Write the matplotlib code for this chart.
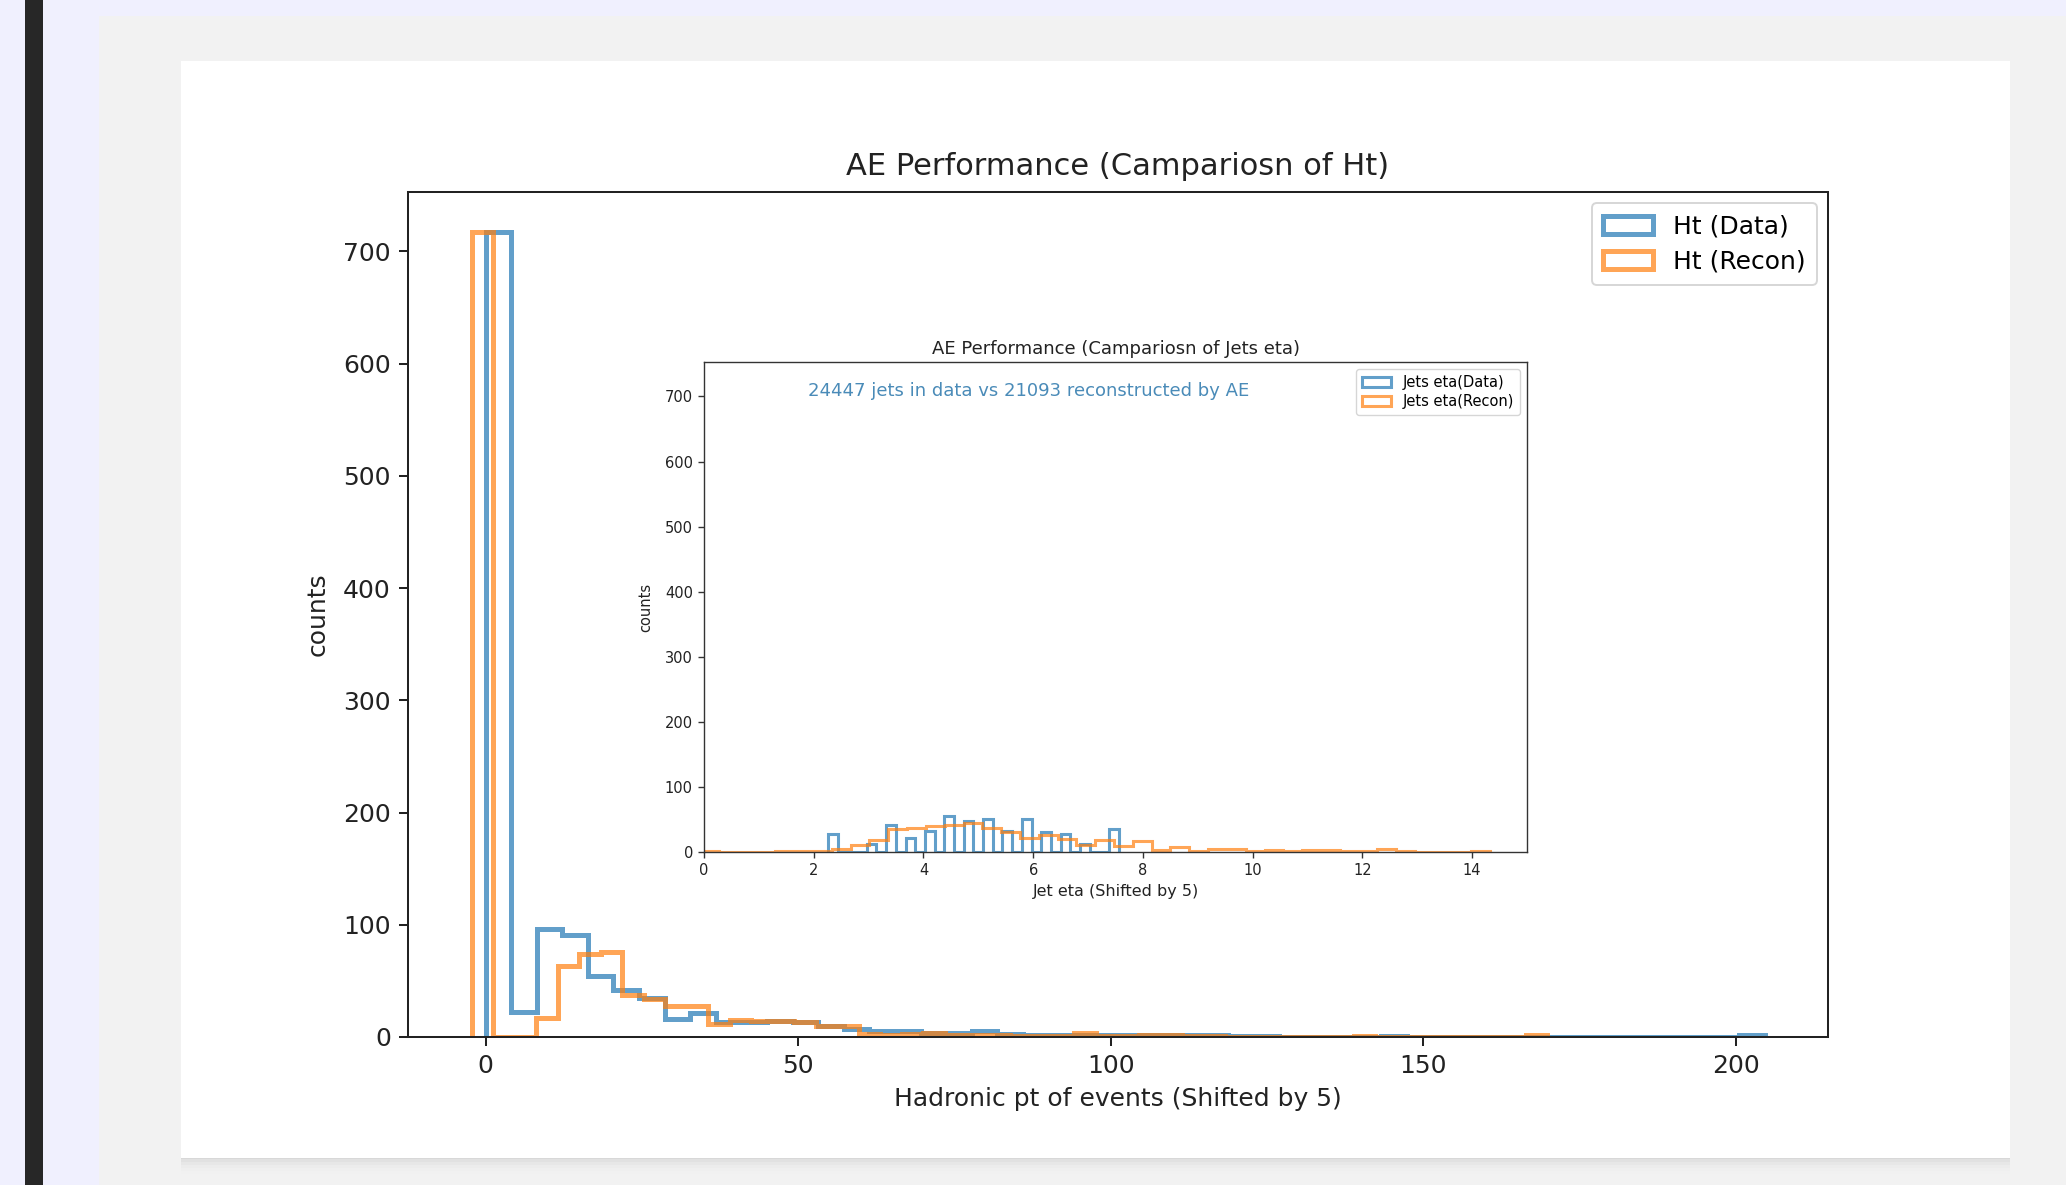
import numpy as np
import matplotlib
matplotlib.use("Agg")
import matplotlib.pyplot as plt
from matplotlib.patches import Rectangle, Patch

# ---------------- data ----------------
# Main histogram: Ht (Data) - 50 equal bins
ht_data_range = (0.0, 204.6)
ht_data_counts = [717, 22, 96, 91, 54, 42, 35, 16, 21, 13,
                  13, 14, 13, 10, 7, 5, 5, 4, 4, 5,
                  3, 2, 2, 2, 2, 2, 2, 2, 2, 1,
                  1, 0, 0, 0, 0, 1, 0, 0, 0, 0,
                  0, 0, 0, 0, 0, 0, 0, 0, 0, 2]
# Main histogram: Ht (Recon) - 50 equal bins
ht_recon_range = (-2.2, 169.8)
ht_recon_counts = [717, 0, 0, 17, 63, 74, 76, 37, 34, 28,
                   28, 12, 15, 14, 14, 13, 10, 10, 3, 2,
                   3, 4, 2, 2, 2, 1, 1, 1, 4, 1,
                   1, 2, 2, 1, 1, 0, 0, 0, 0, 0,
                   0, 1, 0, 0, 0, 0, 0, 0, 0, 2]

# Inset: Jets eta (Data) - 30 equal bins
eta_data_range = (2.26, 7.56)
eta_data_counts = [28, 0, 0, 0, 12, 0, 42, 0, 22, 0,
                   33, 0, 56, 0, 47, 0, 50, 0, 32, 0,
                   51, 0, 31, 0, 28, 0, 13, 0, 0, 36]
# Inset: Jets eta (Recon) - 42 equal bins
eta_recon_range = (-0.07, 14.33)
eta_recon_counts = [2, 0, 0, 0, 1, 2, 1, 5, 11, 18,
                    36, 37, 40, 42, 44, 37, 30, 22, 26, 20,
                    10, 18, 9, 17, 3, 8, 1, 4, 5, 1,
                    3, 1, 3, 3, 1, 1, 4, 1, 0, 0,
                    0, 1]

main_title = "AE Performance (Campariosn of Ht)"
main_xlabel = "Hadronic pt of events (Shifted by 5)"
main_labels = ["Ht (Data)", "Ht (Recon)"]
inset_title = "AE Performance (Campariosn of Jets eta)"
inset_xlabel = "Jet eta (Shifted by 5)"
inset_labels = ["Jets eta(Data)", "Jets eta(Recon)"]
inset_note = "24447 jets in data vs 21093 reconstructed by AE"


def edges(rng, counts):
    return np.linspace(rng[0], rng[1], len(counts) + 1)


# ---------------- figure / page frame ----------------
W, H = 2066, 1185
fig = plt.figure(figsize=(W / 100, H / 100), dpi=100)
fig.patch.set_facecolor("#F0F0FE")


def px_rect(x0, y0, x1, y1, **kw):
    r = Rectangle((x0 / W, 1 - y1 / H), (x1 - x0) / W, (y1 - y0) / H,
                  transform=fig.transFigure, **kw)
    fig.add_artist(r)
    return r


px_rect(25, 0, 43, H, facecolor="#272727", edgecolor="none", zorder=-3)
px_rect(99, 16, W, H, facecolor="#F2F2F2", edgecolor="none", zorder=-3)
# card shadow
for i, a in enumerate([0.035, 0.025, 0.018, 0.012, 0.007, 0.004]):
    px_rect(181, 62, 2010, 1159 + 3 * i, facecolor="black", alpha=a,
            edgecolor="none", zorder=-2)
px_rect(181, 61, 2010, 1158, facecolor="white", edgecolor="none", zorder=-1)

# ---------------- main axes ----------------
c_blue = "#1f77b4"
c_orange = "#ff7f0e"

ax = fig.add_axes([408 / W, 1 - 1037 / H, 1420 / W, 845 / H])
ax.set_zorder(1)
ax.set_facecolor("none")
ax.stairs(ht_data_counts, edges(ht_data_range, ht_data_counts),
          color=c_blue, alpha=0.7, linewidth=3.6)
ax.stairs(ht_recon_counts, edges(ht_recon_range, ht_recon_counts),
          color=c_orange, alpha=0.7, linewidth=3.6)
ax.set_xlim(-12.4, 214.7)
ax.set_ylim(0, 753)
ax.set_xticks([0, 50, 100, 150, 200])
ax.set_yticks(range(0, 701, 100))
ax.tick_params(labelsize=18, length=6.4, width=1.45, color="#222222",
               labelcolor="#222222", pad=6)
for s in ax.spines.values():
    s.set_linewidth(1.45)
    s.set_color("#222222")
ax.set_title(main_title, fontsize=22, color="#222222", pad=12)
ax.set_xlabel(main_xlabel, fontsize=18, color="#222222", labelpad=6)
ax.set_ylabel("counts", fontsize=18, color="#222222", labelpad=10)
handles = [Patch(facecolor="none", edgecolor=c, alpha=0.7, linewidth=3.6)
           for c in (c_blue, c_orange)]
leg = ax.legend(handles, main_labels, loc="upper right", fontsize=18,
                handlelength=2.0, borderpad=0.45, labelspacing=0.45,
                handletextpad=0.8, borderaxespad=0.45)
leg.get_frame().set_linewidth(1.4)

# ---------------- inset axes ----------------
ins = fig.add_axes([704 / W, 1 - 852 / H, 823 / W, 490 / H])
ins.set_zorder(2)
ins.stairs(eta_data_counts, edges(eta_data_range, eta_data_counts),
           color=c_blue, alpha=0.7, linewidth=2.2)
ins.stairs(eta_recon_counts, edges(eta_recon_range, eta_recon_counts),
           color=c_orange, alpha=0.7, linewidth=2.2)
ins.set_xlim(0, 15)
ins.set_ylim(0, 753)
ins.set_xticks(range(0, 15, 2))
ins.set_yticks(range(0, 701, 100))
ins.tick_params(labelsize=10.5, length=4, width=1.0, color="#333333",
                labelcolor="#222222", pad=4)
for s in ins.spines.values():
    s.set_linewidth(1.0)
    s.set_color("#333333")
ins.set_title(inset_title, fontsize=13, color="#222222", pad=6)
ins.set_xlabel(inset_xlabel, fontsize=11.5, color="#222222", labelpad=4)
ins.set_ylabel("counts", fontsize=10.5, color="#222222", labelpad=8)
ins.text(0.395, 0.94, inset_note, transform=ins.transAxes, ha="center",
         va="center", fontsize=13, color="#4a8bb8")
handles2 = [Patch(facecolor="none", edgecolor=c, alpha=0.7, linewidth=2.2)
            for c in (c_blue, c_orange)]
leg2 = ins.legend(handles2, inset_labels, loc="upper right", fontsize=10.5,
                  handlelength=2.0, borderpad=0.4, labelspacing=0.3,
                  handletextpad=0.8)
leg2.get_frame().set_linewidth(1.0)

fig.savefig("out.png", dpi=100, facecolor=fig.get_facecolor())
